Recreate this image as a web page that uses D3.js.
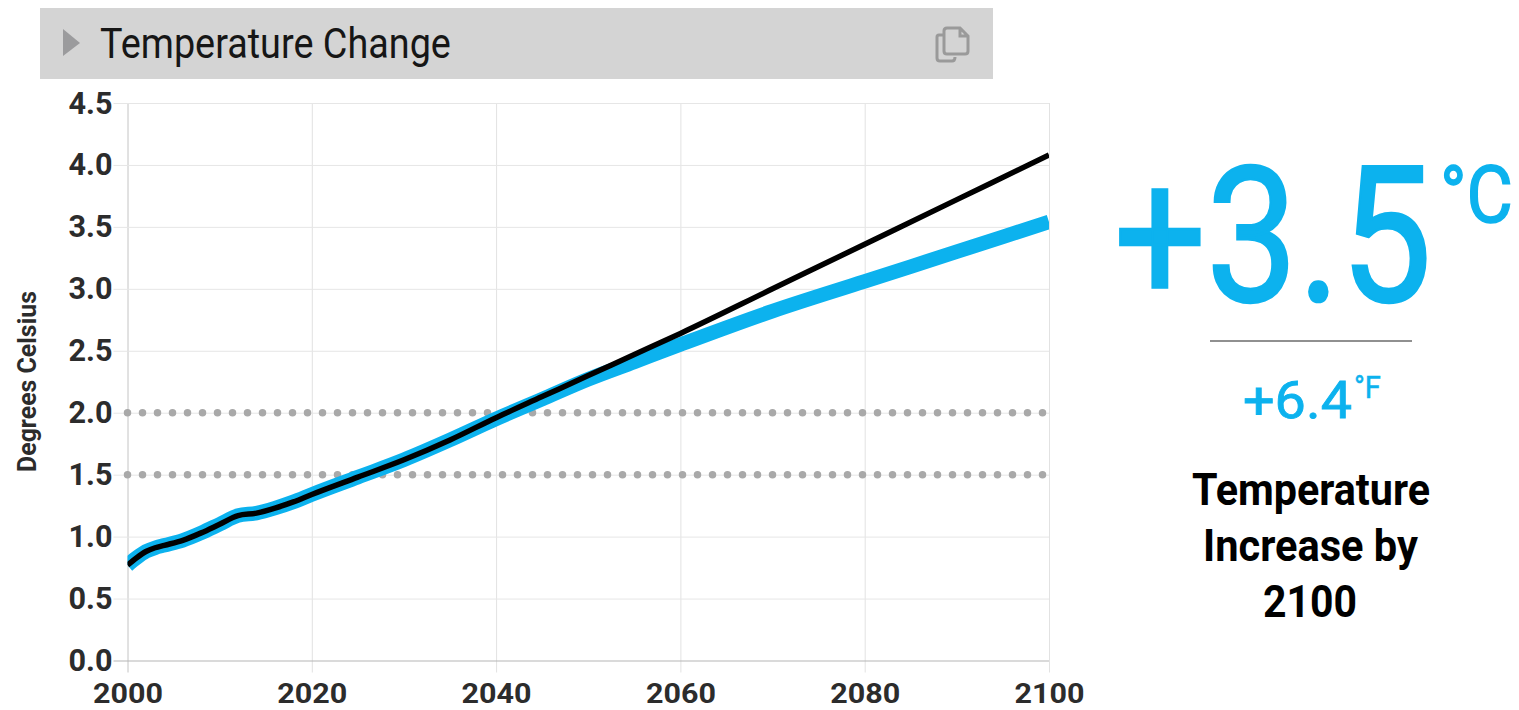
<!DOCTYPE html>
<html>
<head>
<meta charset="utf-8">
<title>Temperature Change</title>
<script src="https://cdn.jsdelivr.net/npm/d3@7"></script>
<style>
  body { margin: 0; background: #fff; overflow: hidden; }
  svg { display: block; }
  text { font-family: Roboto, sans-serif; }
  .domain { display: none; }
</style>
</head>
<body>
<div id="chart"></div>
<script>
// values
const years = [2000, 2001, 2002, 2003, 2004, 2006, 2008, 2010, 2012, 2014, 2016, 2018, 2020, 2025, 2030, 2035, 2040, 2045, 2050, 2055, 2060, 2070, 2080, 2090, 2100];
const baseline = [0.77, 0.83, 0.88, 0.91, 0.93, 0.97, 1.03, 1.10, 1.17, 1.19, 1.23, 1.28, 1.34, 1.48, 1.62, 1.78, 1.96, 2.13, 2.30, 2.47, 2.64, 3.00, 3.36, 3.72, 4.08];
const scenario = [0.77, 0.83, 0.88, 0.91, 0.93, 0.97, 1.03, 1.10, 1.17, 1.19, 1.23, 1.28, 1.34, 1.48, 1.62, 1.78, 1.95, 2.11, 2.27, 2.41, 2.55, 2.82, 3.06, 3.30, 3.54];
const targets = [1.5, 2.0];
const xTicks = [2000, 2020, 2040, 2060, 2080, 2100];
const yTicks = [0, 0.5, 1, 1.5, 2, 2.5, 3, 3.5, 4, 4.5];

const margin = { top: 103, right: 470, bottom: 49.5, left: 127.5 };
const width = 1519 - margin.left - margin.right;
const height = 710 - margin.top - margin.bottom;
const blue = '#0cb2ee';

const svg = d3.select('#chart').append('svg')
  .attr('width', 1519)
  .attr('height', 710);

// The original font is condensed, so squeeze Roboto to the measured width
function squeeze(sel, w) {
  sel.each(function () {
    const t = d3.select(this);
    const x0 = +t.attr('x') || 0;
    const y0 = +t.attr('y') || 0;
    const sx = w / this.getComputedTextLength();
    t.attr('transform', `translate(${x0},${y0}) scale(${sx},1) translate(${-x0},${-y0})`);
  });
}

// Header bar
svg.append('rect').attr('x', 40).attr('y', 8).attr('width', 953).attr('height', 71).attr('fill', '#d4d4d4');
svg.append('path').attr('d', 'M63 29L80 43L63 56Z').attr('fill', '#9b9b9d');
svg.append('text').attr('x', 100).attr('y', 58)
  .attr('font-size', 43).attr('fill', '#161616')
  .text('Temperature Change')
  .call(squeeze, 351);

// Copy icon
svg.append('path')
  .attr('d', 'M944 35H939Q937 35 937 37V58Q937 61 940 61H952Q955 61 955 57M947 28H960L968 36V51Q968 54 965 54H947Q944 54 944 51V31Q944 28 947 28ZM960 28V36H968')
  .attr('fill', 'none').attr('stroke', '#9a9a9a').attr('stroke-width', 3);

const g = svg.append('g').attr('transform', `translate(${margin.left},${margin.top})`);

const x = d3.scaleLinear().domain([2000, 2100]).range([0, width]);
const y = d3.scaleLinear().domain([0, 4.5]).range([height, 0]);

// Axes double as the grid
const xAxis = g.append('g')
  .attr('transform', `translate(0,${height})`)
  .call(d3.axisBottom(x).tickValues(xTicks).tickFormat(d3.format('d')).tickSize(0));
xAxis.selectAll('line')
  .attr('y1', 12).attr('y2', -height)
  .attr('stroke', d => d === 2000 ? '#c4c4c4' : '#e2e2e2');
xAxis.selectAll('text')
  .attr('y', 42.5).attr('dy', 0)
  .attr('font-size', 28).attr('font-weight', 700).attr('fill', '#2c2c2c')
  .call(squeeze, 70);

const yAxis = g.append('g')
  .call(d3.axisLeft(y).tickValues(yTicks).tickFormat(d3.format('.1f')).tickSize(0));
yAxis.selectAll('line')
  .attr('x1', -14).attr('x2', width).attr('stroke', d => d === 0 ? '#b5b5b5' : '#e6e6e6');
yAxis.selectAll('text')
  .attr('x', -15).attr('dy', 0).attr('y', 10)
  .attr('font-size', 32).attr('font-weight', 700).attr('fill', '#2c2c2c')
  .call(squeeze, 44);

// Dotted reference lines
g.selectAll('.target')
  .data(targets)
  .enter()
  .append('line')
  .attr('class', 'target')
  .attr('x1', 0)
  .attr('x2', width)
  .attr('y1', d => y(d))
  .attr('y2', d => y(d))
  .attr('stroke', '#a9a9a9')
  .attr('stroke-width', 7.5)
  .attr('stroke-linecap', 'round')
  .attr('stroke-dasharray', '0 15');

// Lines are cut off at the plot edges
g.append('clipPath').attr('id', 'plot-clip')
  .append('rect').attr('width', width).attr('height', height);

const line = d3.line()
  .x((d, i) => x(years[i]))
  .y(d => y(d))
  .curve(d3.curveMonotoneX);

g.append('path')
  .attr('d', line(scenario))
  .attr('clip-path', 'url(#plot-clip)')
  .attr('fill', 'none').attr('stroke', blue).attr('stroke-width', 14.5);
g.append('path')
  .attr('d', line(baseline))
  .attr('clip-path', 'url(#plot-clip)')
  .attr('fill', 'none').attr('stroke', '#000').attr('stroke-width', 5.5);

// Y axis title
const yTitle = svg.append('text')
  .attr('text-anchor', 'middle')
  .attr('font-size', 26).attr('font-weight', 700).attr('fill', '#2c2c2c')
  .text('Degrees Celsius');
yTitle.attr('transform', `translate(36,381.5) rotate(-90) scale(${181 / yTitle.node().getComputedTextLength()},1)`);

// Readout on the right
function label(str, left, base, w, size, weight, fill, thicken) {
  svg.append('text').attr('x', left).attr('y', base)
    .attr('font-size', size).attr('font-weight', weight).attr('fill', fill)
    .attr('stroke', thicken ? fill : 'none').attr('stroke-width', thicken || 0)
    .text(str)
    .call(squeeze, w);
}
label('+3.5', 1114, 301, 318, 190, 400, blue, 2.5);
label('°C', 1440, 222, 73, 80, 400, blue, 1.5);
svg.append('line').attr('x1', 1210).attr('x2', 1412).attr('y1', 341).attr('y2', 341)
  .attr('stroke', '#222').attr('stroke-width', 1.2);
label('+6.4', 1243, 418, 109, 52, 400, blue, 0.8);
label('°F', 1354, 398, 27, 32, 400, blue, 0.5);
label('Temperature', 1192, 505, 238, 45, 700, '#000');
label('Increase by', 1203, 561, 215, 45, 700, '#000');
label('2100', 1263, 617, 94, 45, 700, '#000');
</script>
</body>
</html>
